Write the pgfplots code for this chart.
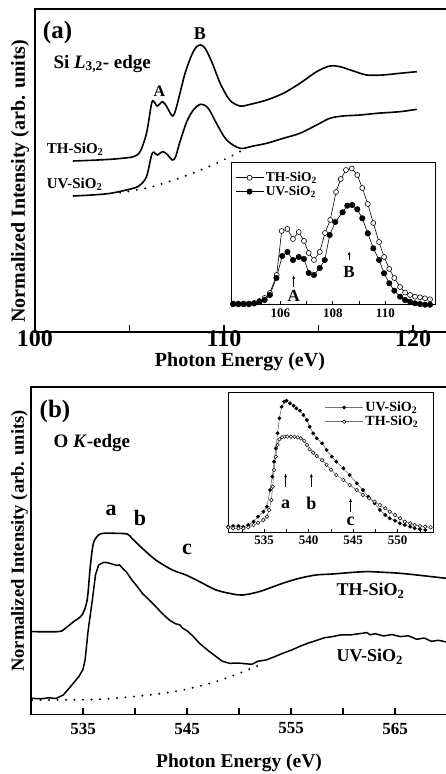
\documentclass[border=0pt]{standalone}
\usepackage{pgfplots}
\pgfplotsset{compat=1.18}
\usepackage{fontspec}
\setmainfont{Liberation Serif}
\usetikzlibrary{arrows.meta}
\newcommand{\fs}[1]{\fontsize{#1}{#1}\selectfont\bfseries}
\pgfplotsset{
  mainax/.style={scale only axis, anchor=south west, axis line style={line width=1.6pt},
    ytick=\empty, xtick pos=bottom, tick align=inside, major tick length=7pt, minor tick length=7pt,
    tick style={black,line width=1.3pt}},
  insax/.style={scale only axis, anchor=south west, axis line style={line width=1pt},
    ytick=\empty, xtick pos=bottom, tick align=inside, major tick length=4pt, minor tick length=4pt,
    tick style={black,line width=0.8pt}, clip=false, axis background/.style={fill=white},
    xticklabel style={font=\fs{13}}},
  curve/.style={line width=1.6pt, black, smooth},
  dotl/.style={line width=2.2pt, black, line cap=round, dash pattern=on 0pt off 8.5pt},
}
\begin{document}
\begin{tikzpicture}[x=1pt,y=1pt]
\useasboundingbox (0,0) rectangle (445,774);

% ---------------- panel (a)
\begin{axis}[mainax, at={(35pt,442pt)}, width=415.8pt, height=323pt,
  xmin=100, xmax=122, ymin=0, ymax=323,
  xtick={100,110,120}, xticklabels={100,110,120}, minor xtick={105,115},
  xticklabel style={font=\fs{24}, yshift=5pt},
  xlabel={Photon Energy (eV)},
  xlabel style={font=\fs{20}, at={(axis description cs:0.493,-0.093)}, anchor=center},
  ylabel={Normalized Intensity (arb. units)},
  ylabel style={font=\fs{20}, at={(axis description cs:-0.036,0.467)}, anchor=center}]
\addplot[curve] coordinates {(102,171) (103,171.7) (104,172.7) (104.6,173.7) (105.2,175.3) (105.56,180.3) (105.9,198.7) (106.17,228.7) (106.3,230.3) (106.47,226) (106.75,230.3) (106.97,225.3) (107.27,216) (107.44,222) (107.67,238.7) (107.94,258.7) (108.29,277) (108.55,285.3) (108.77,287) (109.0,283.7) (109.35,270.3) (109.8,248.7) (110.3,232) (110.85,226) (111.4,227.7) (112.26,232) (113.14,238.7) (114.02,248.7) (114.9,260.3) (115.6,266) (116.14,265.3) (116.84,261) (117.55,257) (118.4,257) (119.3,258.7) (120.2,260.3)};
\addplot[curve] coordinates {(102,136) (103,137) (104,138.7) (105.2,143.7) (105.56,147) (105.9,155.3) (106.17,177) (106.3,179.7) (106.47,177) (106.75,180.3) (106.97,178) (107.27,172) (107.44,175.3) (107.67,190.3) (108.03,210.3) (108.38,222) (108.77,227.7) (109.17,223.7) (109.6,208.7) (110.14,192) (110.85,183.7) (111.55,186) (112.26,188.7) (113.14,193.7) (114.02,198.7) (114.9,207) (115.6,213.7) (116.3,216) (117.2,217) (118.1,218.7) (119.3,220.3) (120.2,222.7)};
\addplot[dotl, smooth] coordinates {(104.5,139.3) (106.08,144.7) (107.85,155.3) (109.6,168.7) (111.0,182)};
\end{axis}

% inset (a)
\begin{axis}[insax, at={(231pt,469pt)}, width=204pt, height=142pt,
  xmin=104.12, xmax=111.89, ymin=0, ymax=142,
  xtick={106,108,110}, xticklabels={106,108,110}, minor xtick={105,107,109,111},
  legend style={at={(axis description cs:0.02,0.95)}, anchor=north west, draw=none, fill=none,
    font=\fs{13.5}, inner sep=0pt, row sep=-1pt},
  legend cell align=left,
  legend image code/.code={\draw[mark repeat=2,mark phase=2,#1] plot coordinates {(0pt,0pt) (14pt,0pt) (28pt,0pt)};}]
\addplot[black, line width=0.6pt, mark=*, mark size=2.5pt, mark options={fill=white, draw=black, line width=0.6pt}] coordinates {(104.2,1.5) (104.4,1.5) (104.6,1.5) (104.8,1.5) (105.0,2.0) (105.2,4) (105.4,7) (105.6,12) (105.86,30) (106.05,74) (106.27,76) (106.48,66) (106.7,73) (106.9,64) (107.08,52) (107.28,45) (107.5,53) (107.7,72) (107.9,85) (108.12,113) (108.3,126) (108.5,135) (108.72,136.5) (108.93,130) (109.12,117) (109.33,101) (109.54,82) (109.76,63) (109.95,48) (110.15,36) (110.34,27) (110.56,18) (110.75,12.5) (110.94,10) (111.13,8.3) (111.32,7.7) (111.51,6.7) (111.7,5.7)};
\addlegendentry{TH-SiO\textsubscript{2}}
\addplot[black, line width=0.6pt, mark=*, mark size=2.7pt, mark options={fill=black, draw=black}] coordinates {(104.2,0.8) (104.4,0.8) (104.6,0.8) (104.8,0.8) (105.0,1.5) (105.2,3) (105.4,5) (105.6,10) (105.85,27) (106.07,49) (106.27,53) (106.48,45) (106.7,48) (106.9,46) (107.08,32) (107.28,30) (107.5,37) (107.69,45) (107.88,70) (108.09,83) (108.37,92.7) (108.55,99.3) (108.74,100) (108.93,95.7) (109.12,86.7) (109.33,71.7) (109.54,56.7) (109.76,45) (109.95,31.7) (110.15,21.7) (110.34,14.3) (110.56,8.3) (110.75,5) (110.94,3.3) (111.13,1.7) (111.32,1) (111.51,0.3) (111.7,0.3)};
\addlegendentry{UV-SiO\textsubscript{2}}
\draw[-{Latex[length=4pt,width=3pt]}, line width=0.8pt] (axis cs:106.51,18) -- (axis cs:106.51,30);
\node[font=\fs{17}] at (axis cs:106.51,9) {A};
\draw[-{Latex[length=4pt,width=3pt]}, line width=0.8pt] (axis cs:108.62,45) -- (axis cs:108.62,54);
\node[font=\fs{17}] at (axis cs:108.62,33.5) {B};
\end{axis}

\node[font=\fs{25}] at (57.5,742) {(a)};
\node[font=\fs{18}] at (200,740.7) {B};
\node[font=\fs{19}, anchor=west] at (50,710) {Si \textit{L}\textsubscript{3,2}- edge};
\node[font=\fs{16}] at (159.5,683.2) {A};
\node[font=\fs{15}, anchor=west] at (43.3,625) {TH-SiO\textsubscript{2}};
\node[font=\fs{15}, anchor=west] at (43.3,590) {UV-SiO\textsubscript{2}};

% ---------------- panel (b)
\begin{axis}[mainax, at={(31pt,59.7pt)}, width=421.2pt, height=327pt,
  xmin=530, xmax=570.5, ymin=0, ymax=327,
  major tick length=6pt, minor tick length=6pt,
  xtick={535,545,555,565}, xticklabels={535,545,555,565}, minor xtick={540,550,560},
  xticklabel style={font=\fs{17}, yshift=-5pt},
  xlabel={Photon Energy (eV)},
  xlabel style={font=\fs{19.5}, at={(axis description cs:0.494,-0.15)}, anchor=center},
  ylabel={Normalized Intensity (arb. units)},
  ylabel style={font=\fs{18.5}, at={(axis description cs:-0.0273,0.53)}, anchor=center}]
\addplot[curve] coordinates {(530,82.7) (532.65,82.7) (533.3,86) (534.1,92.7) (534.9,99.3) (535.4,114.3) (535.7,147.7) (536.0,171) (536.5,179.3) (537.0,181) (538.1,181) (539.25,180.3) (539.7,176) (540.7,166) (542.0,154.3) (543.6,144.3) (544.9,139.3) (546.2,132.7) (547.8,124.3) (549.4,120.3) (550.35,119.3) (551.96,122.7) (554.2,131) (555.8,136) (557.4,139.3) (559.0,140.3) (560.65,141.7) (562.3,142.7) (563.9,142) (565.5,141) (567.1,139.3) (570.5,135.3)};
\addplot[line width=1.5pt, black, line join=round] coordinates {(530.0,16) (531.0,15.5) (531.7,16.5) (532.4,15.8) (533.1,19.3) (533.8,27.7) (534.6,37.7) (535.0,45) (535.2,54.3) (535.5,84.3) (535.9,114.3) (536.2,139.3) (536.5,149.3) (537.0,152) (537.4,151.5) (537.8,150.3) (538.3,148.8) (538.5,149.6) (538.8,146) (539.2,142) (539.7,134.3) (540.2,128) (540.7,121) (541.3,115) (542.0,107.7) (542.6,101) (543.3,94.3) (543.9,90.5) (544.3,89.5) (544.6,86) (545.0,83.5) (545.5,79) (546.2,71) (547.0,64) (547.8,57.7) (548.4,53) (549.1,51) (550.0,51.2) (551.0,50.2) (551.3,50.3) (551.8,53) (552.6,54.3) (553.4,57.5) (554.2,61) (555.0,64) (555.8,67.7) (556.6,71) (557.4,73.7) (558.2,76.5) (559.0,77.7) (559.8,79.5) (560.65,79.3) (561.5,80.5) (562.3,81.7) (562.6,79.5) (563.1,80.6) (563.9,78.3) (564.7,79.8) (565.5,77.7) (566.3,78.5) (567.1,75) (567.8,76.3) (568.5,73) (569.2,74) (570.5,71)};
\addplot[dotl, smooth] coordinates {(530.1,14.3) (536.5,15) (541.3,19.3) (544.6,24.3) (547.8,32.7) (550.0,41) (552.0,49.3)};
\end{axis}

% inset (b)
\begin{axis}[insax, at={(228.3pt,241.3pt)}, width=205pt, height=140pt,
  xmin=530.96, xmax=554.0, ymin=0, ymax=140,
  xtick={535,540,545,550}, xticklabels={535,540,545,550}, minor xtick={532.5,537.5,542.5,547.5,552.5},
  legend style={at={(axis description cs:0.47,0.95)}, anchor=north west, draw=none, fill=none,
    font=\fs{14}, inner sep=0pt, row sep=-1pt},
  legend cell align=left,
  legend image code/.code={\draw[mark repeat=2,mark phase=2,#1] plot coordinates {(0pt,0pt) (19pt,0pt) (38pt,0pt)};}]
\addplot[black!55, line width=0.6pt, mark=*, mark size=1.6pt, mark options={fill=black, draw=black}] coordinates {(530.96,6) (531.5,6.7) (532.1,6.7) (532.65,6) (533.2,7.7) (533.8,11) (534.3,16) (534.9,21) (535.3,26) (535.65,42.7) (535.9,56) (536.1,71) (536.3,84.4) (536.5,99.4) (536.7,114.4) (536.96,126) (537.25,131) (537.5,132) (537.9,129.4) (538.3,127) (538.6,124.4) (539.0,122) (539.4,117.7) (539.8,112.7) (540.1,106) (540.5,99.4) (540.9,94.4) (541.5,89.4) (542.0,82.7) (542.6,76) (543.1,71) (543.9,64.4) (544.6,57.7) (545.4,49.4) (546.1,42.7) (546.7,36) (547.4,29.4) (548.0,22.7) (548.6,17.7) (549.1,14.4) (549.7,12) (550.25,9.4) (550.8,7.7) (551.4,6) (551.9,4.4) (552.5,3.4) (553.1,2.7)};
\addlegendentry{UV-SiO\textsubscript{2}}
\addplot[black!55, line width=0.6pt, mark=*, mark size=1.8pt, mark options={fill=white, draw=black, line width=0.5pt}] coordinates {(530.96,5.4) (531.5,4.4) (532.1,4.4) (532.65,4.4) (533.2,5.4) (533.8,7.7) (534.3,10) (534.9,12.7) (535.3,16) (535.55,22.7) (535.8,32.7) (535.95,46) (536.1,62.7) (536.3,76) (536.5,87.7) (536.7,93.4) (537.0,95.4) (537.3,96) (537.6,96) (538.0,96) (538.4,96) (538.75,95.4) (539.1,94.4) (539.5,92) (539.8,87.7) (540.1,83.4) (540.5,80) (540.9,76.7) (541.5,72.5) (542.0,68) (542.5,63) (543.1,57.7) (543.9,52.7) (544.6,47.7) (545.4,42.7) (546.1,37.7) (546.8,34.4) (547.4,31) (548.0,27.7) (548.6,24.4) (549.1,21) (549.7,17.7) (550.25,14.4) (550.8,11) (551.4,9.4) (551.9,7.7) (552.5,6.7) (553.1,6) (553.7,5.4)};
\addlegendentry{TH-SiO\textsubscript{2}}
\draw[-{Latex[length=4pt,width=3pt]}, line width=0.8pt] (axis cs:537.4,46) -- (axis cs:537.4,59.5);
\node[font=\fs{18}] at (axis cs:537.4,28.7) {a};
\draw[-{Latex[length=4pt,width=3pt]}, line width=0.8pt] (axis cs:540.3,46) -- (axis cs:540.3,59.5);
\node[font=\fs{18}] at (axis cs:540.3,29.2) {b};
\draw[-{Latex[length=4pt,width=3pt]}, line width=0.8pt] (axis cs:544.7,21) -- (axis cs:544.7,34.7);
\node[font=\fs{18}] at (axis cs:544.7,11.7) {c};
\end{axis}

\node[font=\fs{25}] at (55,363) {(b)};
\node[font=\fs{19}, anchor=west] at (50,331) {O \textit{K}-edge};
\node[font=\fs{22}] at (111,264) {a};
\node[font=\fs{22}] at (140,256) {b};
\node[font=\fs{22}] at (187,225) {c};
\node[font=\fs{18}, anchor=west] at (333,183) {TH-SiO\textsubscript{2}};
\node[font=\fs{18}, anchor=west] at (333,117) {UV-SiO\textsubscript{2}};
\end{tikzpicture}
\end{document}
